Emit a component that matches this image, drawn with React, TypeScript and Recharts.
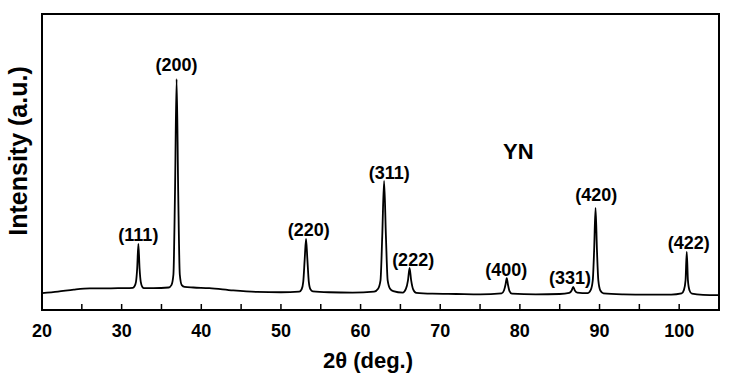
import { LineChart, Line, XAxis, YAxis, ReferenceArea, ReferenceDot } from 'recharts'

// 2θ positions (deg.) and intensities (a.u., 0–100 scale)
const twoTheta = [
  20, 22, 24, 26, 28, 30, 31.4,
  31.6, 31.8, 31.95, 32.1, 32.25, 32.4, 32.6, 32.8,
  34, 35.9, 36.25, 36.5, 36.7, 36.9, 37.1, 37.3, 37.55, 37.9,
  39, 41, 44, 47, 50,
  52.3, 52.6, 52.8, 52.98, 53.15, 53.32, 53.5, 53.7, 54.0,
  56, 59,
  61.7, 62.2, 62.5, 62.72, 62.95, 63.18, 63.4, 63.7, 64.1,
  65.3, 65.7, 65.95, 66.15, 66.35, 66.6, 67.0,
  69, 72, 75,
  77.7, 78.0, 78.2, 78.35, 78.5, 78.7, 79.0,
  82, 85,
  86.2, 86.5, 86.7, 86.9, 87.2,
  88.5, 88.9, 89.15, 89.32, 89.5, 89.68, 89.85, 90.1, 90.5,
  93, 96, 99,
  100.3, 100.6, 100.8, 100.95, 101.1, 101.3, 101.6,
  103, 105,
]
const intensity = [
  5.7, 6.2, 6.9, 7.3, 7.3, 7.4, 7.5,
  7.9, 9.5, 14, 22.3, 14, 9.5, 7.8, 7.4,
  7.4, 7.6, 8.4, 12, 40, 78, 40, 12, 8.4, 7.8,
  7.6, 7.4, 6.6, 6.1, 6.0,
  6.2, 7.0, 9.5, 17, 24, 17, 9.5, 7.0, 6.3,
  6.0, 5.9,
  6.2, 7.2, 10, 25, 43.6, 25, 10, 7.2, 6.4,
  5.9, 7.2, 10, 14.2, 10, 7.0, 5.8,
  5.5, 5.4, 5.3,
  5.6, 6.6, 8.6, 10.8, 8.6, 6.4, 5.5,
  5.3, 5.4,
  5.8, 6.6, 7.8, 6.6, 5.9,
  5.7, 6.8, 10, 20, 34.5, 20, 10, 6.6, 5.6,
  5.3, 5.2, 5.2,
  5.6, 6.8, 10, 19.6, 10, 6.6, 5.5,
  5.1, 5.0,
]

// Miller index labels and where their text sits
const hkl = ['(111)', '(200)', '(220)', '(311)', '(222)', '(400)', '(331)', '(420)', '(422)']
const labelTheta = [32.1, 36.9, 53.5, 63.6, 66.6, 78.3, 86.3, 89.6, 101.2]
const labelY = [25.5, 82.8, 27.2, 46.5, 17.1, 13.7, 11.1, 39.0, 22.8]

const xTicks = [20, 25, 30, 35, 40, 45, 50, 55, 60, 65, 70, 75, 80, 85, 90, 95, 100, 105]

const data = twoTheta.map((t, k) => ({ t, i: intensity[k] }))

const font = '"Liberation Sans", Arial, sans-serif'

const XTick = ({ x, y, payload }: any) => (
  <g>
    <line x1={x} x2={x} y1={y} y2={y - 6} stroke="#000" strokeWidth={1.5} />
    {payload.value % 10 === 0 && (
      <text
        x={x}
        y={y + 27}
        textAnchor="middle"
        fontFamily={font}
        fontWeight="bold"
        fontSize={18}
        fill="#000"
      >
        {payload.value}
      </text>
    )}
  </g>
)

const YTick = ({ x, y }: any) => (
  <line x1={x} x2={x + 3} y1={y} y2={y} stroke="#000" strokeWidth={1.5} />
)

export default function App() {
  return (
    <div style={{ position: 'absolute', left: 0, top: 0, width: 733, height: 383, background: '#fff' }}>
      <LineChart width={733} height={383} data={data} margin={{ top: 14, right: 14, bottom: 0, left: 42 }}>
        <XAxis
          dataKey="t"
          type="number"
          domain={[20, 105]}
          ticks={xTicks}
          interval={0}
          height={73}
          tickSize={0}
          tickMargin={0}
          axisLine={false}
          tick={<XTick />}
          allowDataOverflow
        />
        <YAxis
          type="number"
          domain={[0, 100]}
          ticks={[73]}
          width={0}
          tickSize={0}
          tickMargin={0}
          axisLine={false}
          tick={<YTick />}
          allowDataOverflow
        />
        <ReferenceArea x1={20} x2={105} y1={0} y2={100} fill="none" stroke="#000" strokeWidth={2} />
        <Line
          type="monotone"
          dataKey="i"
          stroke="#000"
          strokeWidth={1.8}
          dot={false}
          isAnimationActive={false}
        />
        {hkl.map((h, k) => (
          <ReferenceDot
            key={h}
            x={labelTheta[k]}
            y={labelY[k]}
            r={0}
            fill="none"
            stroke="none"
            label={{
              value: h,
              position: 'center',
              fill: '#000',
              fontSize: 18,
              fontWeight: 'bold',
              fontFamily: font,
            }}
          />
        ))}
        <ReferenceDot
          x={79.8}
          y={53.5}
          r={0}
          fill="none"
          stroke="none"
          label={{ value: 'YN', position: 'center', fill: '#000', fontSize: 22, fontWeight: 'bold', fontFamily: font }}
        />
      </LineChart>
      <svg width={733} height={383} style={{ position: 'absolute', left: 0, top: 0, pointerEvents: 'none' }}>
        <text x={368} y={368} textAnchor="middle" fontFamily={font} fontWeight="bold" fontSize={22} fill="#000">
          2θ (deg.)
        </text>
        <text
          transform="translate(27,151) rotate(-90)"
          textAnchor="middle"
          fontFamily={font}
          fontWeight="bold"
          fontSize={25}
          fill="#000"
        >
          Intensity (a.u.)
        </text>
      </svg>
    </div>
  )
}
